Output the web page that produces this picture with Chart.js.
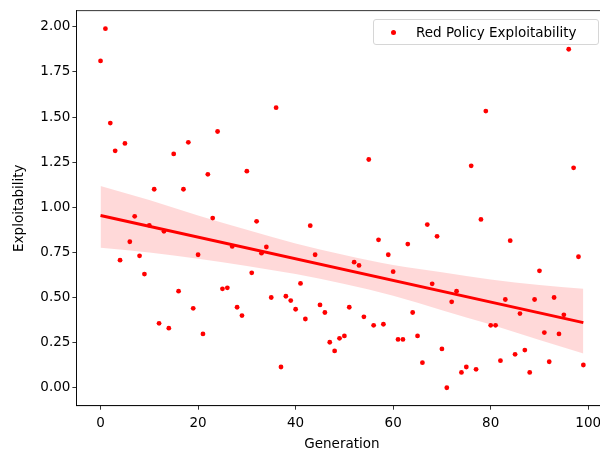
<!DOCTYPE html>
<html><head><meta charset="utf-8">
<script src="https://cdn.jsdelivr.net/npm/chart.js@4"></script>
<style>
html,body{margin:0;padding:0;overflow:hidden;background:#fff;width:600px;height:450px}
#wrap{position:relative;width:620px;height:450px}
#legend{position:absolute;left:373px;top:19px;width:224px;height:24px;border:1px solid #d6d6d6;border-radius:3px;background:rgba(255,255,255,0.8);font-family:"DejaVu Sans";font-size:13.5px;color:#000}
#legend .dot{position:absolute;left:17px;top:10px;width:5px;height:5px;border-radius:50%;background:#ff0000}
#legend .txt{position:absolute;left:42px;top:3px;white-space:nowrap;line-height:18px}
</style>
</head><body>
<div id="wrap">
<canvas id="c" width="620" height="450"></canvas>
<div id="legend"><span class="dot"></span><span class="txt">Red Policy Exploitability</span></div>
</div>
<script>
const generations = [0,1,2,3,4,5,6,7,8,9,10,11,12,13,14,15,16,17,18,19,20,21,22,23,24,25,26,27,28,29,30,31,32,33,34,35,36,37,38,39,40,41,42,43,44,45,46,47,48,49,50,51,52,53,54,55,56,57,58,59,60,61,62,63,64,65,66,67,68,69,70,71,72,73,74,75,76,77,78,79,80,81,82,83,84,85,86,87,88,89,90,91,92,93,94,95,96,97,98,99];
const exploitability = [1.811,1.99,1.467,1.313,0.707,1.354,0.809,0.95,0.731,0.63,
0.90,1.10,0.357,0.867,0.33,1.296,0.535,1.10,1.36,0.44,
0.737,0.298,1.183,0.94,1.42,0.548,0.554,0.783,0.446,0.40,
1.20,0.637,0.922,0.746,0.78,0.50,1.552,0.115,0.507,0.483,
0.435,0.578,0.381,0.898,0.737,0.459,0.417,0.252,0.204,0.274,
0.287,0.446,0.696,0.678,0.393,1.265,0.346,0.82,0.352,0.737,
0.643,0.268,0.268,0.796,0.417,0.287,0.139,0.904,0.576,0.839,
0.215,0.0,0.476,0.535,0.085,0.115,1.23,0.102,0.933,1.533,
0.346,0.346,0.15,0.489,0.815,0.185,0.411,0.209,0.085,0.489,
0.648,0.306,0.144,0.50,0.298,0.404,1.876,1.219,0.726,0.126];
const fitGen = [0, 99];
const fitVal = [0.955, 0.361];
const bandGen = [0,10,20,30,40,50,60,70,80,90,99];
const bandUpper = [1.118,1.04,0.955,0.875,0.80,0.735,0.68,0.64,0.60,0.57,0.548];
const bandLower = [0.776,0.75,0.715,0.675,0.63,0.575,0.51,0.43,0.35,0.265,0.19];
const xTicks = [0,20,40,60,80,100];
const yTicks = [0,0.25,0.5,0.75,1.0,1.25,1.5,1.75,2.0];

const font = {family:'DejaVu Sans', size:13.5};
const zip = (a,b)=>a.map((v,i)=>({x:v,y:b[i]}));

const frame = {id:'frame', afterDraw(chart){
  const a = chart.chartArea, ctx = chart.ctx;
  ctx.save(); ctx.strokeStyle='#000'; ctx.lineWidth=0.8;
  ctx.strokeRect(a.left, a.top, a.right-a.left, a.bottom-a.top);
  ctx.restore();
}};

new Chart(document.getElementById('c'), {
  type:'scatter',
  data:{datasets:[
    {type:'line', data:zip(fitGen,fitVal), borderColor:'#ff0000', borderWidth:3, pointRadius:0, fill:false},
    {type:'scatter', data:zip(generations,exploitability), backgroundColor:'#ff0000', borderWidth:0, pointRadius:2.4},
    {type:'line', data:zip(bandGen,bandUpper), borderWidth:0, borderColor:'rgba(0,0,0,0)', pointRadius:0, fill:false, cubicInterpolationMode:'monotone'},
    {type:'line', data:zip(bandGen,bandLower), borderWidth:0, borderColor:'rgba(0,0,0,0)', pointRadius:0, fill:'-1', backgroundColor:'rgba(255,0,0,0.15)', cubicInterpolationMode:'monotone'}
  ]},
  options:{
    responsive:false, animation:false,
    layout:{padding:{left:11, top:10.7, right:12.5, bottom:0}},
    plugins:{legend:{display:false}, tooltip:{enabled:false}},
    scales:{
      x:{type:'linear', min:-4.95, max:103.95,
        afterBuildTicks:s=>{s.ticks = xTicks.map(v=>({value:v}));},
        afterFit:s=>{s.height = 44.3;},
        ticks:{font, color:'#000', padding:6, autoSkip:false, maxRotation:0, callback:v=>String(v)},
        grid:{display:true, drawOnChartArea:false, drawTicks:true, tickLength:4, color:'#000', lineWidth:0.8},
        border:{display:true, color:'#000', width:0.8},
        title:{display:true, text:'Generation', font, color:'#000', padding:{top:0,bottom:-3}}
      },
      y:{type:'linear', min:-0.0995, max:2.0895,
        afterBuildTicks:s=>{s.ticks = yTicks.map(v=>({value:v}));},
        afterFit:s=>{s.width = 65.4;},
        ticks:{font, color:'#000', padding:2, autoSkip:false, callback:v=>Number(v).toFixed(2)},
        grid:{display:true, drawOnChartArea:false, drawTicks:true, tickLength:4, color:'#000', lineWidth:0.8},
        border:{display:true, color:'#000', width:0.8},
        title:{display:true, text:'Exploitability', font, color:'#000', padding:{top:0,bottom:2}}
      }
    }
  },
  plugins:[frame]
});
</script>
</body></html>
